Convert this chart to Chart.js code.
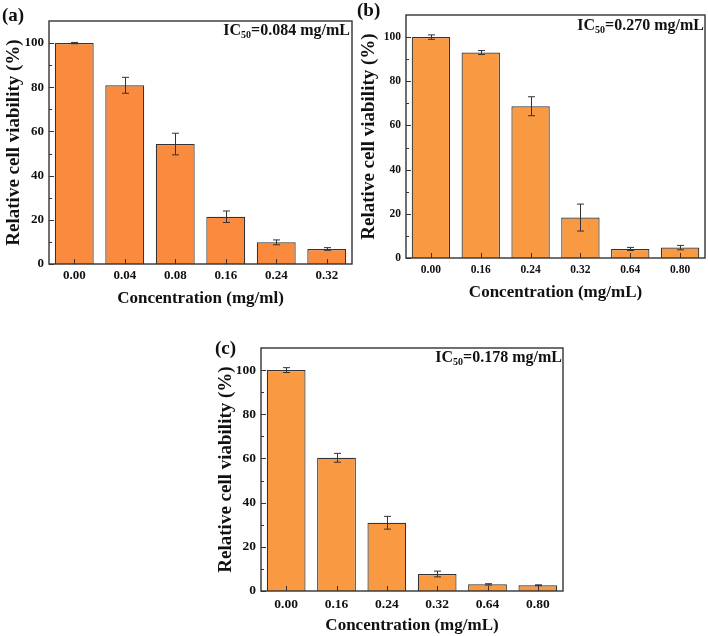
<!DOCTYPE html>
<html>
<head>
<meta charset="utf-8">
<script src="https://cdn.jsdelivr.net/npm/chart.js@4.4.1/dist/chart.umd.min.js"></script>
<style>
  html, body { margin: 0; padding: 0; background: #fff; }
  #page { position: relative; width: 708px; height: 636px; overflow: hidden; font-family: "Liberation Serif", "Times New Roman", serif; font-weight: bold; color: #111; }
  .box { position: absolute; }
  .tag { position: absolute; font-size: 19px; line-height: 1; }
  .ic { position: absolute; font-size: 16px; line-height: 1; white-space: nowrap; text-align: right; }
  .ic sub { font-size: 10px; vertical-align: -3px; line-height: 0; }
</style>
</head>
<body>
<div id="page">
  <div class="box" style="left:0;top:0;width:354px;height:310px"><canvas id="chartA"></canvas></div>
  <div class="box" style="left:354px;top:0;width:354px;height:305px"><canvas id="chartB"></canvas></div>
  <div class="box" style="left:210px;top:330px;width:356px;height:306px"><canvas id="chartC"></canvas></div>

  <div class="tag" style="left:2px;top:5px">(a)</div>
  <div class="tag" style="left:357px;top:0px">(b)</div>
  <div class="tag" style="left:215px;top:338px">(c)</div>

  <div class="ic" style="right:358px;top:22px">IC<sub>50</sub>=0.084 mg/mL</div>
  <div class="ic" style="right:4px;top:17px">IC<sub>50</sub>=0.270 mg/mL</div>
  <div class="ic" style="right:146px;top:349px">IC<sub>50</sub>=0.178 mg/mL</div>
</div>
<script>
// data
const categoriesA = ['0.00', '0.04', '0.08', '0.16', '0.24', '0.32'];
const viabilityA = [100, 80.9, 54.3, 21.4, 9.8, 6.8];
const errorA = [0.3, 3.6, 4.9, 2.6, 1.1, 0.6];

const categoriesB = ['0.00', '0.16', '0.24', '0.32', '0.64', '0.80'];
const viabilityB = [100, 93.0, 68.7, 18.3, 4.1, 4.7];
const errorB = [1.0, 0.9, 4.3, 6.1, 0.7, 1.0];

const categoriesC = ['0.00', '0.16', '0.24', '0.32', '0.64', '0.80'];
const viabilityC = [100, 60.3, 30.9, 7.7, 3.0, 2.6];
const errorC = [1.1, 2.0, 2.9, 1.3, 0.3, 0.2];

const yTicks = [0, 20, 40, 60, 80, 100];
const yMinorTicks = [10, 30, 50, 70, 90];

const axisColor = '#333';
const FONT = "'Liberation Serif', 'Times New Roman', serif";

// frame, inward ticks and error bars
const framePlugin = {
  id: 'frame',
  afterDatasetsDraw(chart) {
    const { ctx, chartArea: a, scales: { x, y } } = chart;
    const ds = chart.data.datasets[0];
    const meta = chart.getDatasetMeta(0);
    ctx.save();
    ctx.strokeStyle = axisColor;
    ctx.lineWidth = 1;

    // x ticks (inward, at category centres)
    meta.data.forEach(bar => {
      ctx.beginPath();
      ctx.moveTo(Math.round(bar.x) + 0.5, a.bottom);
      ctx.lineTo(Math.round(bar.x) + 0.5, a.bottom - 5);
      ctx.stroke();
    });

    // error bars
    meta.data.forEach((bar, i) => {
      const v = ds.data[i], e = ds.errors[i];
      const t = y.getPixelForValue(v + e);
      const b = y.getPixelForValue(v - e);
      const cx = Math.round(bar.x) + 0.5;
      ctx.beginPath();
      ctx.moveTo(cx, t); ctx.lineTo(cx, b);
      ctx.moveTo(cx - 3.5, t); ctx.lineTo(cx + 3.5, t);
      ctx.moveTo(cx - 3.5, b); ctx.lineTo(cx + 3.5, b);
      ctx.stroke();
    });

    // y ticks (inward)
    yTicks.forEach(v => {
      const py = Math.round(y.getPixelForValue(v)) + 0.5;
      ctx.beginPath();
      ctx.moveTo(a.left, py); ctx.lineTo(a.left + 5, py);
      ctx.stroke();
    });
    yMinorTicks.forEach(v => {
      const py = Math.round(y.getPixelForValue(v)) + 0.5;
      ctx.beginPath();
      ctx.moveTo(a.left, py); ctx.lineTo(a.left + 3, py);
      ctx.stroke();
    });

    // box
    ctx.lineWidth = 1.4;
    ctx.strokeRect(a.left, a.top, a.right - a.left, a.bottom - a.top);
    ctx.restore();
  }
};

function makeChart(id, labels, values, errors, opt) {
  return new Chart(document.getElementById(id), {
    type: 'bar',
    data: {
      labels: labels,
      datasets: [{
        data: values,
        errors: errors,
        backgroundColor: opt.color,
        borderColor: axisColor,
        borderWidth: 1.2,
        barPercentage: 0.77,
        categoryPercentage: 1
      }]
    },
    options: {
      responsive: true,
      maintainAspectRatio: false,
      animation: false,
      devicePixelRatio: 1,
      layout: { padding: { left: 0, top: opt.top, right: opt.right, bottom: 0 } },
      plugins: { legend: { display: false }, tooltip: { enabled: false } },
      scales: {
        x: {
          grid: { display: false, drawTicks: false },
          border: { display: false },
          ticks: { color: '#111', padding: opt.xPad, font: { family: FONT, size: opt.tickSize, weight: 'bold' } },
          title: {
            display: true,
            text: opt.xTitle,
            color: '#111',
            padding: { top: 0, bottom: opt.xTitlePad },
            font: { family: FONT, size: 17, weight: 'bold' }
          },
          afterFit(s) { s.height = opt.xHeight; }
        },
        y: {
          min: 0,
          max: 110,
          grid: { display: false, drawTicks: false },
          border: { display: false },
          afterBuildTicks(s) { s.ticks = yTicks.map(v => ({ value: v })); },
          ticks: { color: '#111', padding: opt.yPad, font: { family: FONT, size: opt.tickSize, weight: 'bold' } },
          title: {
            display: true,
            text: 'Relative cell viability (%)',
            color: '#111',
            padding: { top: opt.yTitlePad, bottom: 0 },
            font: { family: FONT, size: 19, weight: 'bold' }
          },
          afterFit(s) { s.width = opt.yWidth; }
        }
      }
    },
    plugins: [framePlugin]
  });
}

makeChart('chartA', categoriesA, viabilityA, errorA, {
  color: '#F98A3E', top: 21, right: 2, yWidth: 49, xHeight: 46,
  xTitle: 'Concentration (mg/ml)', xTitlePad: 1, yTitlePad: 2.5, xPad: 4, yPad: 5, tickSize: 13
});
makeChart('chartB', categoriesB, viabilityB, errorB, {
  color: '#F99A42', top: 15, right: 3, yWidth: 52, xHeight: 47,
  xTitle: 'Concentration (mg/mL)', xTitlePad: 2.3, yTitlePad: 3.5, xPad: 5, yPad: 5, tickSize: 11.5
});
makeChart('chartC', categoriesC, viabilityC, errorC, {
  color: '#F99A42', top: 18, right: 3, yWidth: 51, xHeight: 45,
  xTitle: 'Concentration (mg/mL)', xTitlePad: 0, yTitlePad: 4.5, xPad: 5, yPad: 5, tickSize: 13.5
});
</script>
</body>
</html>
